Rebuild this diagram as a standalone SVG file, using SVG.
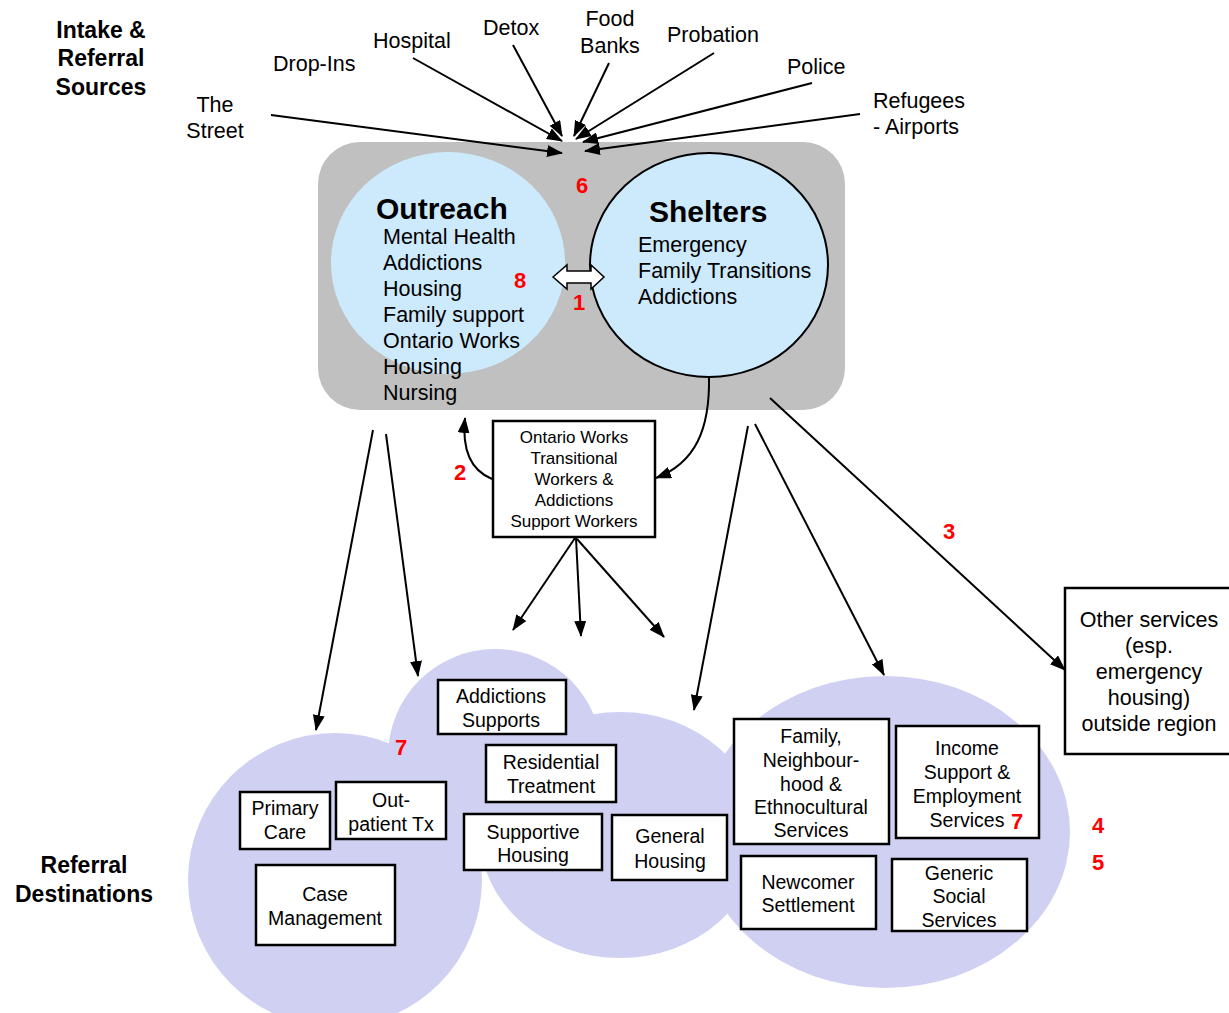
<svg xmlns="http://www.w3.org/2000/svg" width="1229" height="1013" viewBox="0 0 1229 1013">
<style>
text{font-family:"Liberation Sans",Arial,sans-serif;fill:#000}
.lbl{font-size:21.5px}
.hd{font-size:23px;font-weight:bold;text-anchor:middle}
.ttl{font-size:30px;font-weight:bold}
.num{font-size:22px;font-weight:bold;fill:#ff0000;text-anchor:middle}
.bx{fill:#fff;stroke:#000;stroke-width:2.5}
.bt{font-size:19.5px;text-anchor:middle}
.cl{fill:#d0d1f2}
.ar{fill:none;stroke:#000;stroke-width:2;marker-end:url(#ah)}
</style>
<defs>
<marker id="ah" markerUnits="userSpaceOnUse" markerWidth="16" markerHeight="12" refX="15" refY="6" orient="auto">
<path d="M0,0 L16,6 L0,12 Z" fill="#000"/>
</marker>
</defs>
<rect width="1229" height="1013" fill="#fff"/>

<g id="clouds">
<circle class="cl" cx="335" cy="880" r="147"/>
<circle class="cl" cx="495" cy="756" r="107"/>
<ellipse class="cl" cx="620" cy="835" rx="140" ry="123"/>
<ellipse class="cl" cx="885" cy="832" rx="185" ry="156"/>
</g>

<g id="labels">
<text class="hd" x="101" y="38">Intake &amp;</text>
<text class="hd" x="101" y="66">Referral</text>
<text class="hd" x="101" y="95">Sources</text>
<text class="hd" x="84" y="873">Referral</text>
<text class="hd" x="84" y="902">Destinations</text>
</g>

<g id="sources" class="lbl">
<text x="215" y="112" text-anchor="middle">The</text>
<text x="215" y="138" text-anchor="middle">Street</text>
<text x="273" y="71">Drop-Ins</text>
<text x="373" y="48">Hospital</text>
<text x="483" y="35">Detox</text>
<text x="610" y="26" text-anchor="middle">Food</text>
<text x="610" y="53" text-anchor="middle">Banks</text>
<text x="667" y="42">Probation</text>
<text x="787" y="74">Police</text>
<text x="873" y="108">Refugees</text>
<text x="873" y="134">- Airports</text>
</g>

<g id="hub">
<rect x="318" y="142" width="527" height="268" rx="42" fill="#c0c0c0"/>
<g id="outreach">
<ellipse cx="448" cy="263" rx="117" ry="111" fill="#cdeafc"/>
<text class="ttl" x="376" y="219">Outreach</text>
<g class="lbl">
<text x="383" y="244">Mental Health</text>
<text x="383" y="270">Addictions</text>
<text x="383" y="296">Housing</text>
<text x="383" y="322">Family support</text>
<text x="383" y="348">Ontario Works</text>
<text x="383" y="374">Housing</text>
<text x="383" y="400">Nursing</text>
</g>
</g>
<g id="shelters">
<ellipse cx="709" cy="265" rx="119" ry="112" fill="#cdeafc" stroke="#000" stroke-width="2"/>
<text class="ttl" x="649" y="222">Shelters</text>
<g class="lbl">
<text x="638" y="252">Emergency</text>
<text x="638" y="278">Family Transitions</text>
<text x="638" y="304">Addictions</text>
</g>
</g>
<path id="dbl" d="M553,277 L567,265 L567,271 L591,271 L591,265 L604,277 L591,289 L591,283 L567,283 L567,289 Z" fill="#fff" stroke="#000" stroke-width="1.5"/>
</g>

<g id="ow-box">
<rect class="bx" x="493" y="421" width="162" height="116"/>
<g font-size="17px" text-anchor="middle">
<text x="574" y="443">Ontario Works</text>
<text x="574" y="464">Transitional</text>
<text x="574" y="485">Workers &amp;</text>
<text x="574" y="506">Addictions</text>
<text x="574" y="527">Support Workers</text>
</g>
</g>

<g id="other-box">
<rect class="bx" x="1065" y="588" width="170" height="166"/>
<g class="lbl" text-anchor="middle">
<text x="1149" y="627">Other services</text>
<text x="1149" y="653">(esp.</text>
<text x="1149" y="679">emergency</text>
<text x="1149" y="705">housing)</text>
<text x="1149" y="731">outside region</text>
</g>
</g>

<g id="n-addictions"><rect class="bx" x="438" y="680" width="128" height="54"/><text class="bt" x="501" y="703">Addictions</text><text class="bt" x="501" y="727">Supports</text></g>
<g id="n-residential"><rect class="bx" x="486" y="745" width="130" height="57"/><text class="bt" x="551" y="769">Residential</text><text class="bt" x="551" y="793">Treatment</text></g>
<g id="n-primary"><rect class="bx" x="240" y="792" width="90" height="57"/><text class="bt" x="285" y="815">Primary</text><text class="bt" x="285" y="839">Care</text></g>
<g id="n-outpatient"><rect class="bx" x="336" y="782" width="110" height="57"/><text class="bt" x="391" y="807">Out-</text><text class="bt" x="391" y="831">patient Tx</text></g>
<g id="n-supportive"><rect class="bx" x="464" y="814" width="138" height="56"/><text class="bt" x="533" y="839">Supportive</text><text class="bt" x="533" y="862">Housing</text></g>
<g id="n-general"><rect class="bx" x="612" y="815" width="115" height="65"/><text class="bt" x="670" y="843">General</text><text class="bt" x="670" y="868">Housing</text></g>
<g id="n-case"><rect class="bx" x="256" y="865" width="139" height="80"/><text class="bt" x="325" y="901">Case</text><text class="bt" x="325" y="925">Management</text></g>
<g id="n-family"><rect class="bx" x="734" y="719" width="155" height="125"/><text class="bt" x="811" y="743">Family,</text><text class="bt" x="811" y="767">Neighbour-</text><text class="bt" x="811" y="791">hood &amp;</text><text class="bt" x="811" y="814">Ethnocultural</text><text class="bt" x="811" y="837">Services</text></g>
<g id="n-income"><rect class="bx" x="896" y="726" width="143" height="112"/><text class="bt" x="967" y="755">Income</text><text class="bt" x="967" y="779">Support &amp;</text><text class="bt" x="967" y="803">Employment</text><text class="bt" x="967" y="827">Services</text></g>
<g id="n-newcomer"><rect class="bx" x="741" y="856" width="135" height="73"/><text class="bt" x="808" y="889">Newcomer</text><text class="bt" x="808" y="912">Settlement</text></g>
<g id="n-generic"><rect class="bx" x="892" y="859" width="135" height="72"/><text class="bt" x="959" y="880">Generic</text><text class="bt" x="959" y="903">Social</text><text class="bt" x="959" y="927">Services</text></g>

<g id="connectors">
<line class="ar" x1="271" y1="115" x2="562" y2="153"/>
<line class="ar" x1="413" y1="58" x2="562" y2="141"/>
<line class="ar" x1="513" y1="45" x2="562" y2="136"/>
<line class="ar" x1="609" y1="63" x2="574" y2="136"/>
<line class="ar" x1="714" y1="53" x2="576" y2="139"/>
<line class="ar" x1="812" y1="83" x2="583" y2="142"/>
<line class="ar" x1="860" y1="114" x2="585" y2="151"/>
<path class="ar" d="M709,377 C710,430 695,463 656,478"/>
<path class="ar" d="M492,479 C470,470 462,448 465,418"/>
<line class="ar" x1="575" y1="538" x2="513" y2="630"/>
<line class="ar" x1="576" y1="538" x2="581" y2="636"/>
<line class="ar" x1="577" y1="539" x2="664" y2="637"/>
<line class="ar" x1="373" y1="430" x2="316" y2="730"/>
<line class="ar" x1="386" y1="434" x2="418" y2="676"/>
<line class="ar" x1="748" y1="426" x2="694" y2="710"/>
<line class="ar" x1="755" y1="424" x2="884" y2="675"/>
<line class="ar" x1="770" y1="398" x2="1065" y2="670"/>
</g>

<g id="numbers">
<text class="num" x="582" y="193">6</text>
<text class="num" x="520" y="288">8</text>
<text class="num" x="579" y="310">1</text>
<text class="num" x="460" y="480">2</text>
<text class="num" x="949" y="539">3</text>
<text class="num" x="1098" y="833">4</text>
<text class="num" x="1098" y="870">5</text>
<text class="num" x="401" y="755">7</text>
<text class="num" x="1017" y="829">7</text>
</g>
</svg>
